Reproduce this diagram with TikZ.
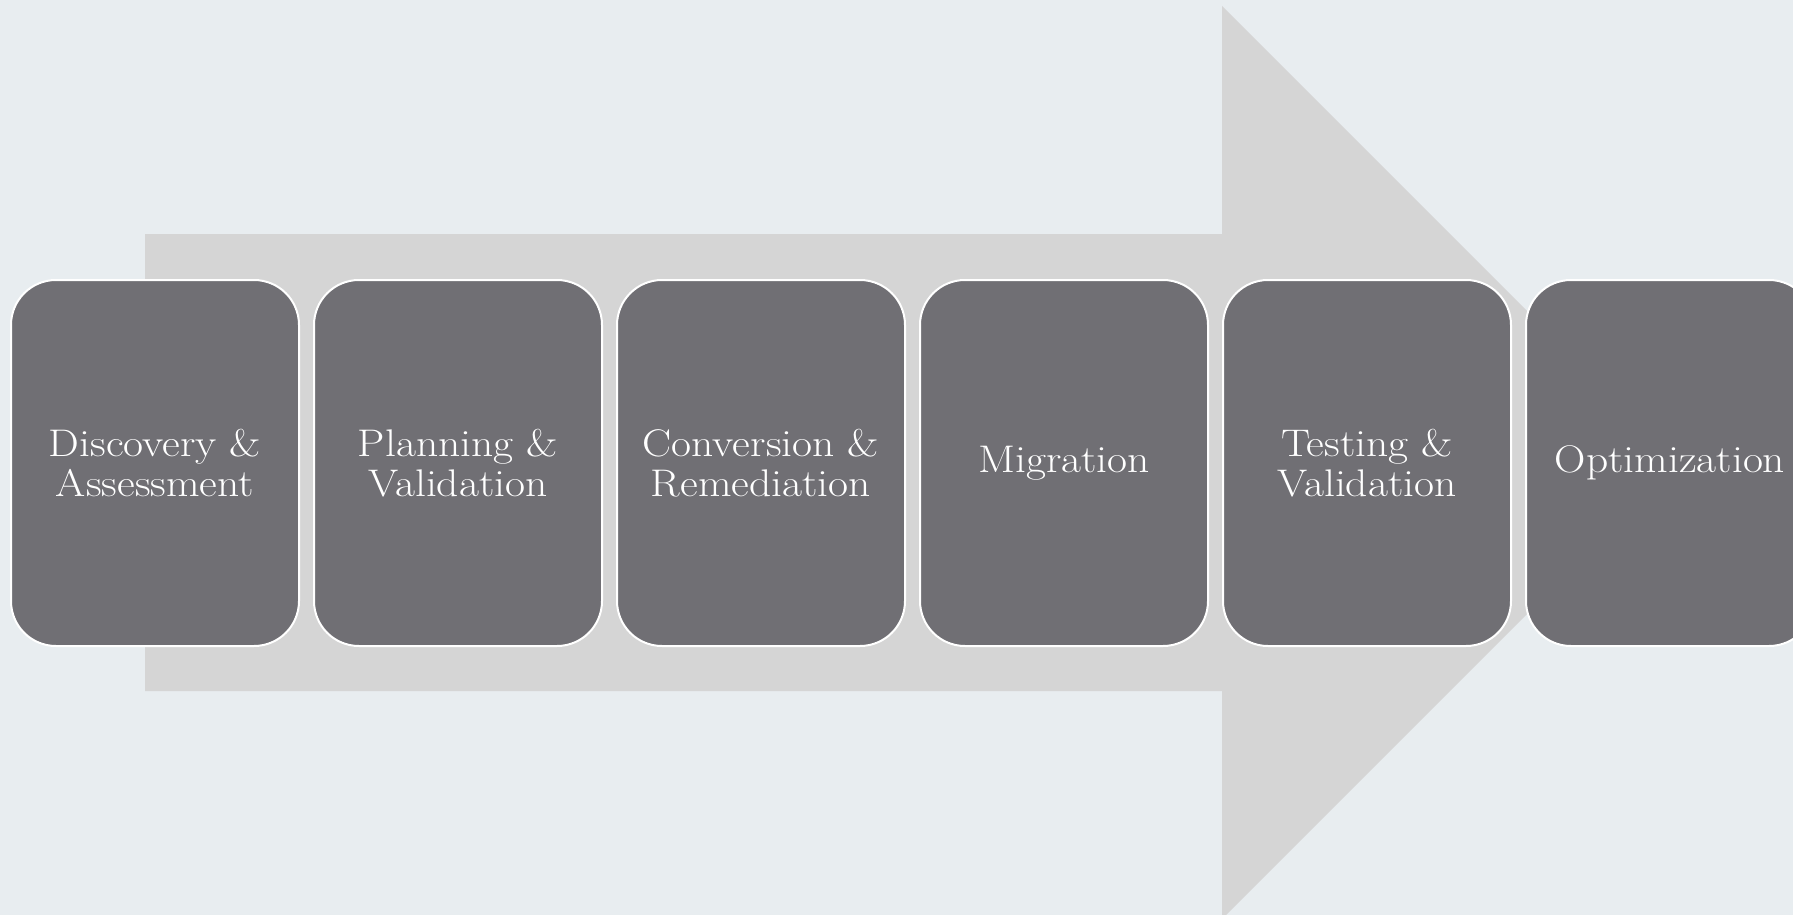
\documentclass[tikz,border=0pt]{standalone}
\usepackage{fontspec}
\setmainfont{Latin Modern Roman}[FakeStretch=1.13]
\definecolor{bgcol}{HTML}{E8EDF0}
\definecolor{arrowcol}{HTML}{D5D5D5}
\definecolor{boxcol}{HTML}{706F74}
\tikzset{
  stage/.style={draw=white, line width=2pt, fill=boxcol, rounded corners=45pt,
    minimum width=288pt, minimum height=366pt, inner sep=0pt,
    text=white, align=center, font=\fontsize{38.5}{40}\selectfont},
}
\begin{document}
\begin{tikzpicture}[x=1pt,y=-1pt]
\useasboundingbox (0,0) rectangle (1793,915);
\clip (0,0) rectangle (1793,915);
\fill[bgcol] (0,0) rectangle (1793,915);
\fill[arrowcol] (145,234) -- (1222,234) -- (1222,6) -- (1678.5,462.5) -- (1222,919) -- (1222,691) -- (145,691) -- cycle;
\node[stage] (s1) at (155,463) {Discovery \&\\Assessment};
\node[stage] (s2) at (458,463) {Planning \&\\Validation};
\node[stage] (s3) at (761,463) {Conversion \&\\Remediation};
\node[stage] (s4) at (1064,463) {Migration};
\node[stage] (s5) at (1367,463) {Testing \&\\Validation};
\node[stage] (s6) at (1670,463) {Optimization};
\end{tikzpicture}
\end{document}
